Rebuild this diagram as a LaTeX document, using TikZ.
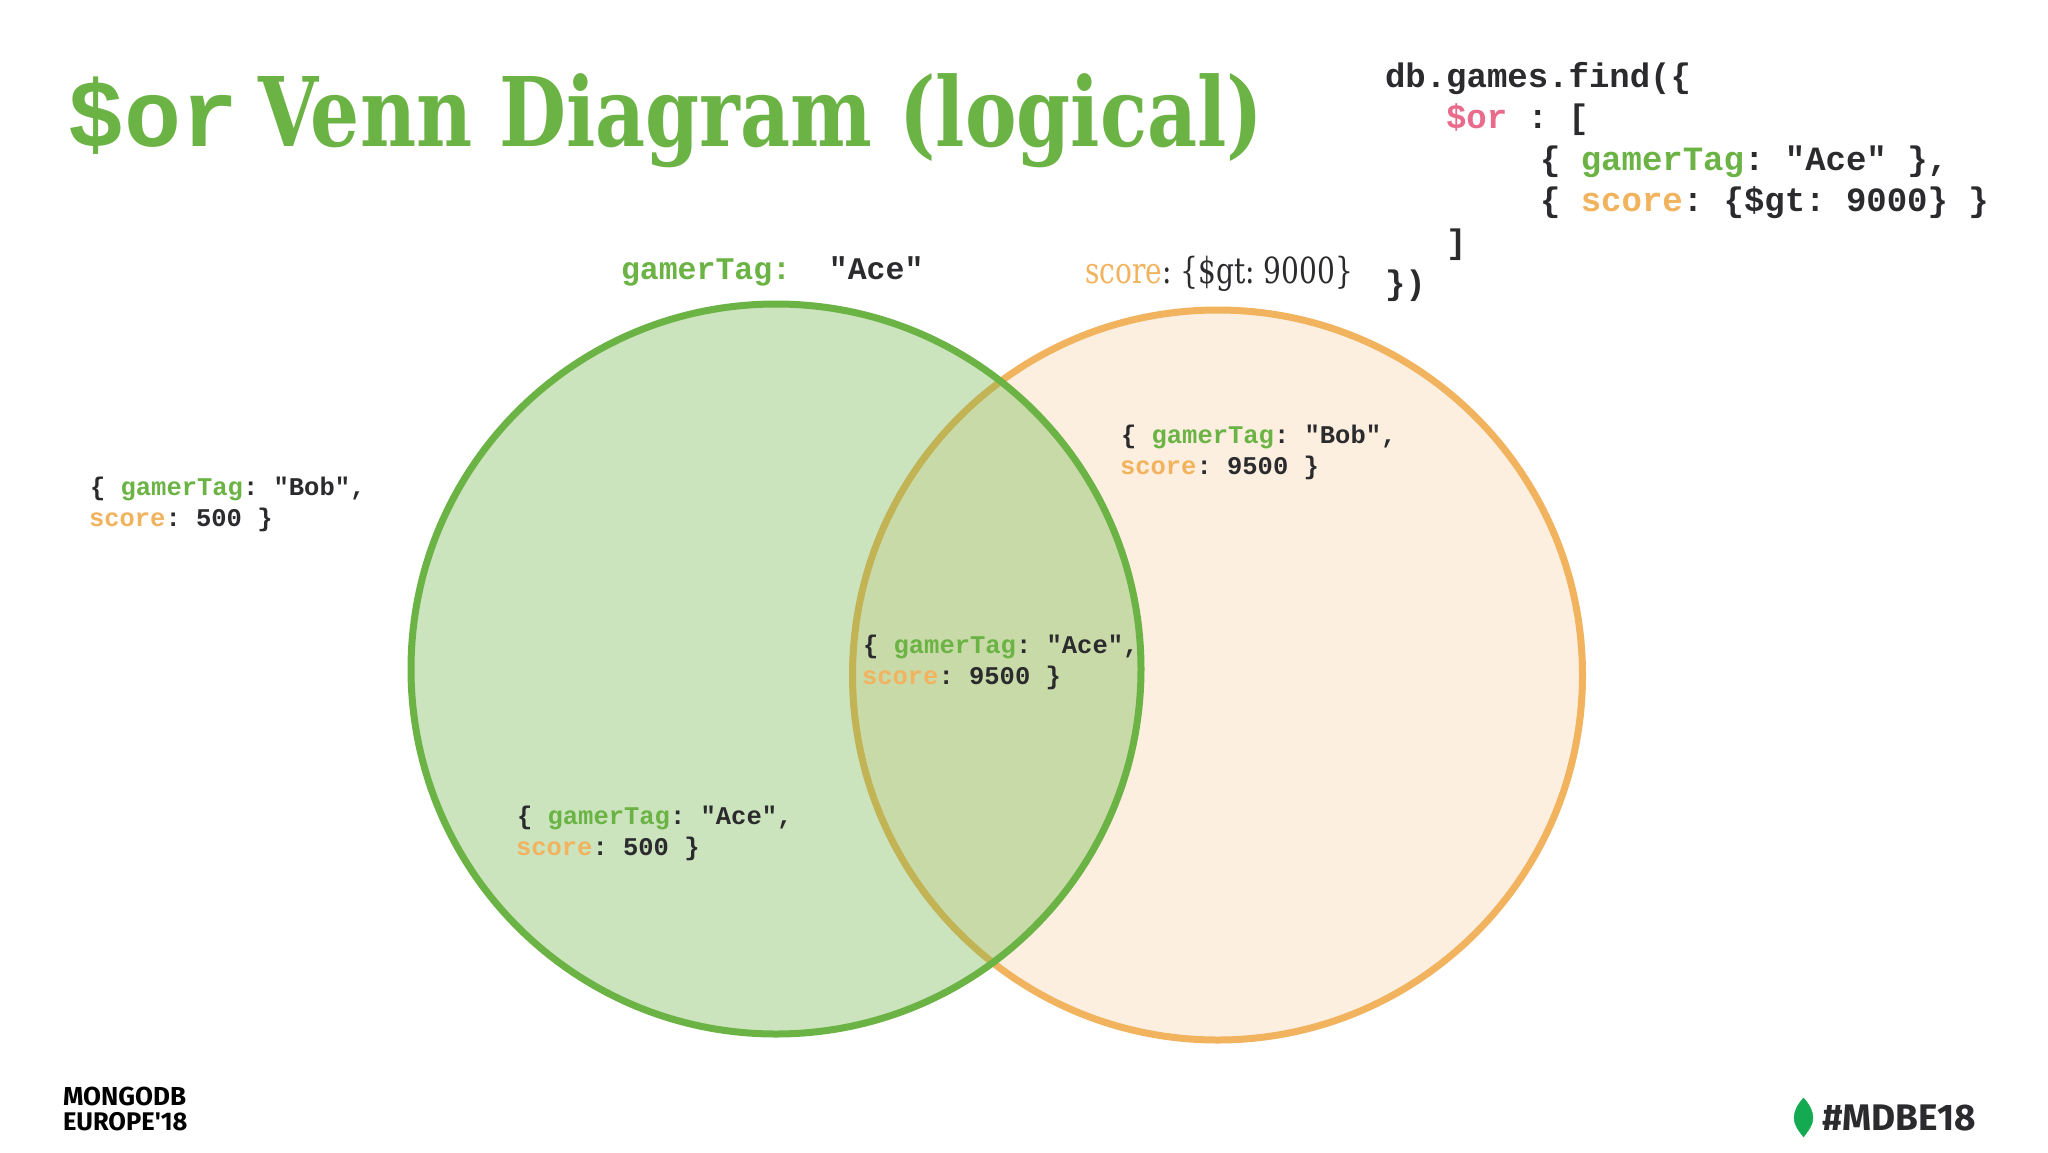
\documentclass[tikz,border=0pt]{standalone}
\usepackage{fontspec}
\usepackage{xcolor}
\setmainfont{Liberation Serif}
\newfontfamily\codefont{Liberation Mono}
\newfontfamily\slabfont[FakeStretch=0.805]{DejaVu Serif}
\newfontfamily\narrowfont[FakeStretch=0.78]{DejaVu Serif}
\newfontfamily\logofont{Fira Sans}
\definecolor{mdbgreen}{HTML}{6BB344}
\definecolor{mdborange}{HTML}{F2B35E}
\definecolor{mdbpink}{HTML}{E96A8A}
\definecolor{mdbink}{HTML}{2B2B2E}
\definecolor{orangefill}{HTML}{FCEFE0}
\definecolor{leafgreen}{HTML}{13AA52}
\newcommand{\gkey}{\textcolor{mdbgreen}{gamerTag}}
\newcommand{\skey}{\textcolor{mdborange}{score}}
\tikzset{
  txt/.style={anchor=base west,inner sep=0pt,outer sep=0pt,text=mdbink},
  bigcode/.style={txt,font=\codefont\bfseries\frenchspacing\fontsize{34}{34}\selectfont},
  doccode/.style={txt,font=\codefont\bfseries\frenchspacing\fontsize{25.5}{25.5}\selectfont},
}
\begin{document}
\begin{tikzpicture}[x=1pt,y=-1pt]
        \useasboundingbox (0,0) rectangle (2048,1152);
        \fill[white] (0,0) rectangle (2048,1152);
        % circles
        \filldraw[draw=mdborange,fill=orangefill,line width=7pt] (1217.5,675) circle (365pt);
        \filldraw[draw=mdbgreen,fill=mdbgreen,line width=7pt,fill opacity=0.35] (776,669) circle (365pt);
        % title
        \node[txt,text=mdbgreen,font=\codefont\bfseries\fontsize{95}{95}\selectfont] (titleOr) at (67,146) {\$or};
        \node[txt,text=mdbgreen,font=\slabfont\bfseries\fontsize{96}{96}\selectfont] (titleRest) at (258,146) {Venn Diagram (logical)};
        % query
        \node[bigcode] (queryA) at (1385,87) {db.games.find(\{};
        \node[bigcode] (queryB) at (1446,128) {\textcolor{mdbpink}{\$or} : [};
        \node[bigcode] (queryC) at (1540,170) {\{ \gkey: "Ace" \},};
        \node[bigcode] (queryD) at (1540,211) {\{ \skey: \{\$gt: 9000\} \}};
        \node[bigcode] (queryE) at (1446,253) {]};
        \node[bigcode] (queryF) at (1385,294) {\})};
        % set labels
        \node[txt,font=\codefont\bfseries\frenchspacing\fontsize{31.5}{31.5}\selectfont] (labelA) at (621,279) {\textcolor{mdbgreen}{gamerTag:}~~"Ace"};
        \node[txt,font=\narrowfont\frenchspacing\fontsize{36}{36}\selectfont] (labelB) at (1085,283) {\skey: \{\$gt: 9000\}};
        % documents
        \node[doccode] (bobLowA) at (90,495) {\{ \gkey: "Bob",};
        \node[doccode] (bobLowB) at (89,526) {\skey: 500 \}};
        \node[doccode] (bobHighA) at (1121,443) {\{ \gkey: "Bob",};
        \node[doccode] (bobHighB) at (1120,474) {\skey: 9500 \}};
        \node[doccode] (aceHighA) at (863,653) {\{ \gkey: "Ace",};
        \node[doccode] (aceHighB) at (862,684) {\skey: 9500 \}};
        \node[doccode] (aceLowA) at (517,824) {\{ \gkey: "Ace",};
        \node[doccode] (aceLowB) at (516,855) {\skey: 500 \}};
        % logos
        \node[txt,text=black,font=\logofont\bfseries\fontsize{26}{26}\selectfont] (logoA) at (63,1105) {MONGODB};
        \node[txt,text=black,font=\logofont\bfseries\fontsize{25.5}{25.5}\selectfont] (logoB) at (63,1130) {EUROPE'18};
        \filldraw[leafgreen] (1803.5,1098) .. controls (1797,1105) and (1794,1112) .. (1794,1118) .. controls (1794,1125) and (1799,1131) .. (1803.5,1137) .. controls (1808,1131) and (1813,1125) .. (1813,1118) .. controls (1813,1112) and (1810,1105) .. (1803.5,1098);
        \node[txt,font=\logofont\bfseries\fontsize{37}{37}\selectfont] (hashTag) at (1822,1130) {\#MDBE18};
\end{tikzpicture}
\end{document}
